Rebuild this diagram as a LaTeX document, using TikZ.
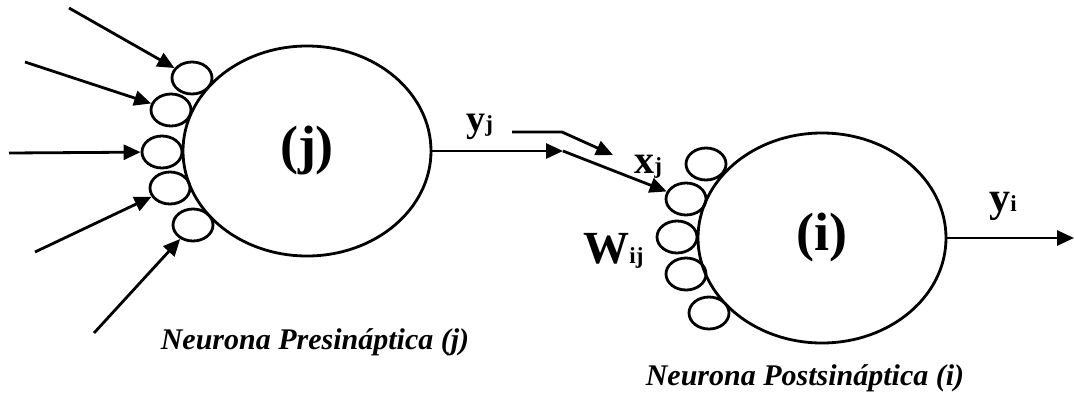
\documentclass[tikz,border=0pt]{standalone}
\usepackage{fontspec}
\setmainfont{Liberation Serif}
\usetikzlibrary{positioning,arrows.meta,shapes.geometric}

\newcommand{\etiq}[4]{{\fontsize{#3}{#3}\selectfont #1}{\fontsize{#4}{#4}\selectfont #2}}

\begin{document}
\begin{tikzpicture}[x=1pt,y=-1pt,line width=2.8pt,
  every node/.style={font=\bfseries,inner sep=0pt},
  neurona/.style={draw,ellipse,minimum width=248pt,minimum height=210pt,font={\fontsize{54}{54}\selectfont\bfseries}},
  sinapsis/.style={draw,ellipse,minimum width=40pt,minimum height=32pt},
  flecha/.style={-{Triangle[length=17pt,width=15pt]}}]
\useasboundingbox (0,0) rectangle (1074,402);
\node[neurona] (nj) at (307,151) {(j)};
\node[neurona] (ni) at (822,238) {(i)};
\node[sinapsis] (sj1) at (192,78) {};
\node[sinapsis] (sj2) at (171,110) {};
\node[sinapsis] (sj3) at (162,152) {};
\node[sinapsis] (sj4) at (170,188) {};
\node[sinapsis] (sj5) at (193,225) {};
\node[sinapsis] (si1) at (706,164) {};
\node[sinapsis] (si2) at (686,199) {};
\node[sinapsis] (si3) at (677,237) {};
\node[sinapsis] (si4) at (686,274) {};
\node[sinapsis] (si5) at (709,313) {};
\coordinate (e1) at (69,8);
\coordinate (e2) at (25,62);
\coordinate (e3) at (9,153);
\coordinate (e4) at (35,252);
\coordinate (e5) at (94,333);
\coordinate (axj) at (563,151);
\coordinate (b1) at (512,132);
\coordinate (b2) at (562,132);
\coordinate (b3) at (613,155);
\coordinate (sal) at (1074,238);
\node[anchor=base west] (yj) at (465,131) {\etiq{y}{j}{38}{23}};
\node[anchor=base west] (xj) at (633,173) {\etiq{x}{j}{40}{23}};
\node[anchor=base west] (wij) at (582,263) {\etiq{W}{ij}{46}{23}};
\node[anchor=base west] (yi) at (988,211) {\etiq{y}{i}{42}{23}};
\node[anchor=base,font={\fontsize{30}{30}\selectfont\bfseries\itshape}] (tj) at (315,349) {Neurona Presináptica (j)};
\node[anchor=base,font={\fontsize{30}{30}\selectfont\bfseries\itshape}] (ti) at (805,385) {Neurona Postsináptica (i)};
\draw[flecha] (e1) -- (sj1);
\draw[flecha] (e2) -- (sj2);
\draw[flecha] (e3) -- (sj3);
\draw[flecha] (e4) -- (sj4);
\draw[flecha] (e5) -- (sj5);
\draw[flecha] (nj.east) -- (axj);
\draw[flecha] (axj) -- (si2);
\draw[flecha] (b1) -- (b2) -- (b3);
\draw[flecha] (ni.east) -- (sal);
\end{tikzpicture}
\end{document}
